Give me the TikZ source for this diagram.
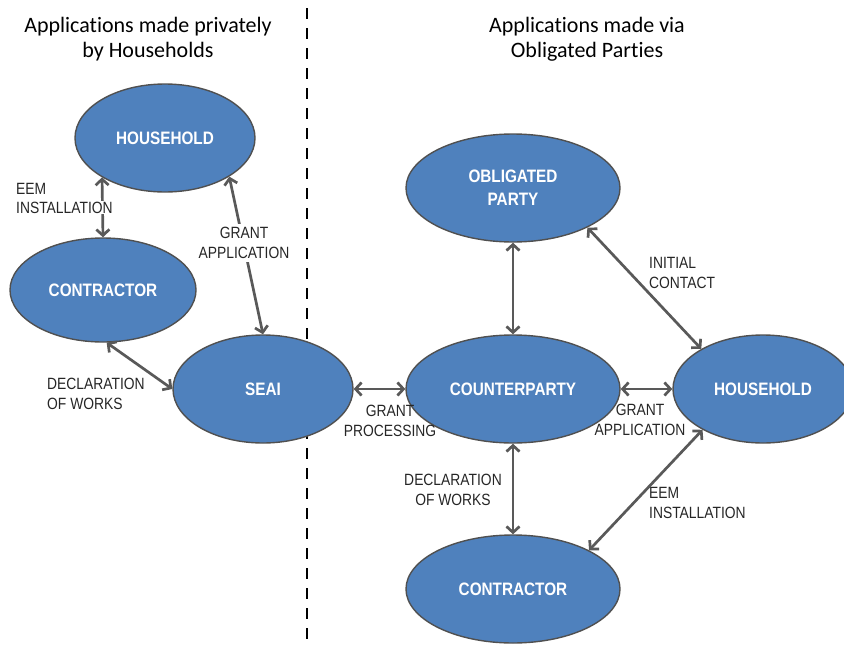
\documentclass[tikz,border=0pt]{standalone}
\usepackage{fontspec}
\setmainfont[Ligatures=NoCommon]{Carlito}
\newfontfamily\lblfont[FakeStretch=0.85]{Liberation Sans}
\usetikzlibrary{positioning,arrows.meta,shapes.geometric}
\definecolor{partyblue}{HTML}{4F81BD}
\definecolor{rim}{HTML}{505050}
\definecolor{linkgrey}{HTML}{595959}

\begin{document}
\begin{tikzpicture}[
  x=1pt,y=-1pt,
  every node/.style={align=center},
  actor/.style={ellipse,draw=rim,line width=1.4pt,fill=partyblue,text=white,inner sep=0pt,
    font=\lblfont\bfseries\fontsize{18}{23}\selectfont},
  slim/.style={actor,minimum width=180pt,minimum height=108pt},
  broad/.style={actor,minimum width=214pt,minimum height=108pt},
  tag/.style={font=\lblfont\fontsize{16.3}{19.5}\selectfont,text=black!85,inner sep=1pt},
  cover/.style={tag,fill=white,inner sep=3pt},
  heading/.style={font=\fontsize{22}{25}\selectfont},
  link/.style={{Straight Barb[length=6pt,width=13pt]}-{Straight Barb[length=6pt,width=13pt]},
    line width=2.7pt,draw=linkgrey}
 ]
  \useasboundingbox (0,0) rectangle (844,648);
  % divider between the two routes
  \coordinate (divtop) at (307,8);
  \coordinate (divbot) at (307,648);
  \draw[line width=2.8pt,dash pattern=on 11pt off 9pt] (divtop) -- (divbot);

  \node[heading] (ttlL) at (148,39) {Applications made privately\\by Households};
  \node[heading] (ttlR) at (587,39) {Applications made via\\Obligated Parties};

  % private route
  \node[slim] (hhL) at (165,138) {HOUSEHOLD};
  \node[actor,minimum width=186pt,minimum height=104pt] (conL) at (103,290) {CONTRACTOR};
  \node[slim] (seai) at (263,389) {SEAI};

  % obligated party route
  \node[broad] (op) at (513,188) {OBLIGATED\\PARTY};
  \node[broad] (cp) at (513,389) {COUNTERPARTY};
  \node[slim] (hhR) at (763,389) {HOUSEHOLD};
  \node[broad] (conR) at (513,589) {CONTRACTOR};

  \draw[link] (hhL.212) -- (conL.north);
  \draw[link] (hhL.329) -- (seai.north);
  \draw[link] (conL.274) -- (seai.west);
  \draw[link] (seai.east) -- (cp.west);
  \draw[link] (op.south) -- (cp.north);
  \draw[link] (op.332) -- (hhR.147);
  \draw[link] (cp.east) -- (hhR.west);
  \draw[link] (hhR.214) -- (conR.27);
  \draw[link] (cp.south) -- (conR.north);

  \node[cover,inner sep=1pt,anchor=base west] (instL) at (15,213) {INSTALLATION};
  \node[tag,anchor=base west] (eemL) at (15,194) {EEM};
  \node[cover] (grantL) at (244,243) {GRANT\\APPLICATION};
  \node[tag,anchor=west,align=left] (declL) at (46,394) {DECLARATION\\OF WORKS};
  \node[tag] (proc) at (390,421) {GRANT\\PROCESSING};
  \node[tag,anchor=west,align=left] (init) at (648,273) {INITIAL\\CONTACT};
  \node[tag] (grantR) at (640,420) {GRANT\\APPLICATION};
  \node[tag,anchor=west,align=left] (eemR) at (648,503) {EEM\\INSTALLATION};
  \node[tag] (declR) at (453,490) {DECLARATION\\OF WORKS};
\end{tikzpicture}
\end{document}
